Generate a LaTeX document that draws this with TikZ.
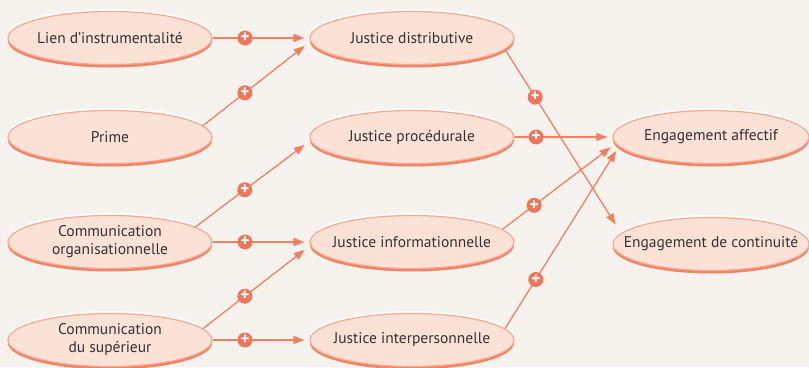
\documentclass[tikz,border=0pt]{standalone}
\usepackage{fontspec}
\setmainfont{PT Sans}
\usetikzlibrary{shapes.geometric,shadows,arrows.meta}
\definecolor{bg}{RGB}{246,243,239}
\definecolor{ellfill}{RGB}{252,226,214}
\definecolor{ellborder}{RGB}{247,168,142}
\definecolor{ellbottom}{RGB}{240,132,102}
\definecolor{conncol}{RGB}{242,128,96}
\definecolor{pluscol}{RGB}{239,118,88}
\definecolor{txt}{RGB}{50,50,50}
\tikzset{
  ell/.style={ellipse, minimum width=204pt, minimum height=53pt, inner xsep=-80pt, inner ysep=-30pt,
    fill=ellfill, draw=ellborder, line width=1.2pt, text=txt, align=center,
    font=\fontsize{15.5}{18}\selectfont,
    general shadow={fill=white, shadow yshift=2.5pt},
    general shadow={fill=ellbottom, shadow yshift=-3pt}},
  ellr/.style={ell, minimum width=196pt},
  conn/.style={draw=conncol, line width=1.3pt, -{Triangle[length=11pt,width=8pt]}},
  plus/.style={circle, fill=pluscol, minimum size=15pt, inner sep=0pt, text=white,
    font=\bfseries\fontsize{17}{17}\selectfont},
}
\begin{document}
\begin{tikzpicture}[x=1pt,y=-1pt]
\fill[bg] (0,0) rectangle (809,367);
\useasboundingbox (0,0) rectangle (809,367);

\node[ell] (lien) at (110,38) {Lien d’instrumentalité};
\node[ell] (prime) at (110,137) {Prime};
\node[ell] (corg) at (110,242) {Communication\\organisationnelle};
\node[ell] (csup) at (110,340) {Communication\\du supérieur};

\node[ell] (jd) at (412,38) {Justice distributive};
\node[ell] (jp) at (412,137) {Justice procédurale};
\node[ell] (ji) at (412,242) {Justice informationnelle};
\node[ell] (jint) at (412,340) {Justice interpersonnelle};

\node[ellr] (ea) at (711,137) {Engagement affectif};
\node[ellr] (ec) at (711,244) {Engagement de continuité};

\draw[conn, shorten >=5pt] (lien.east) -- node[plus, pos=.335]{+} (jd.west);
\draw[conn, shorten >=7pt] (prime.7) -- node[plus, pos=.39]{+} (jd.182);
\draw[conn, shorten >=7pt] (corg.10) -- node[plus, pos=.43]{+} (jp.182);
\draw[conn, shorten >=5pt] (corg.east) -- node[plus, pos=.335]{+} (ji.west);
\draw[conn, shorten >=7pt] (csup.7) -- node[plus, pos=.39]{+} (ji.182);
\draw[conn, shorten >=5pt] (csup.east) -- node[plus, pos=.335]{+} (jint.west);

\draw[conn, shorten >=10pt] (jd.-7) -- node[plus, pos=.26]{+} (ec.173);
\draw[conn, shorten >=5pt] (jp.east) -- node[plus, pos=.22]{+} (ea.west);
\draw[conn, shorten >=6pt] (ji.8) -- node[plus, pos=.28]{+} (ea.184);
\draw[conn, shorten >=5pt] (jint.7) -- node[plus, pos=.27]{+} (ea.186);
\end{tikzpicture}
\end{document}
